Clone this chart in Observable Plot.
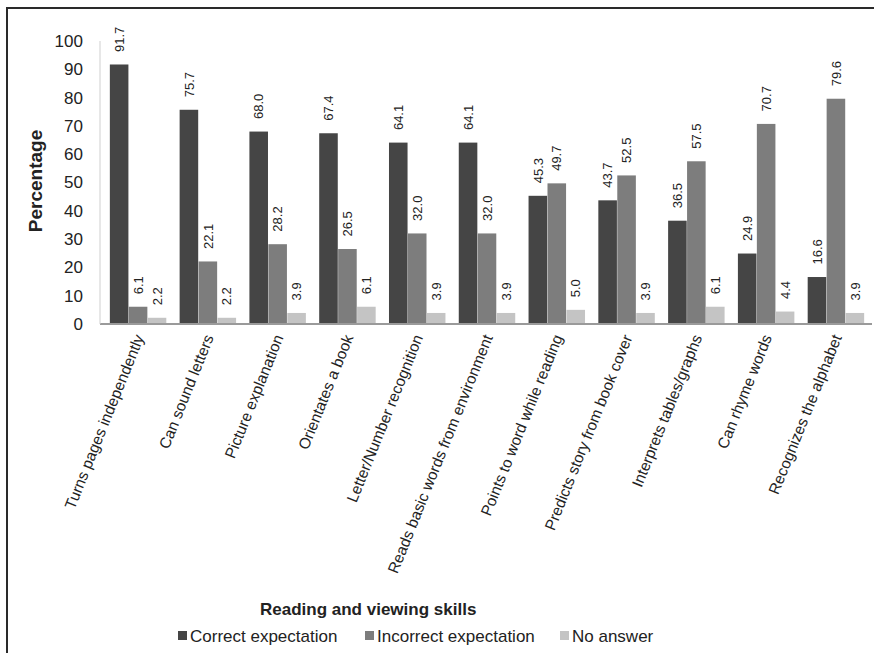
<!DOCTYPE html>
<html>
<head>
<meta charset="utf-8">
<script src="https://cdn.jsdelivr.net/npm/d3@7"></script>
<script src="https://cdn.jsdelivr.net/npm/@observablehq/plot@0.6"></script>
<style>
  html, body { margin: 0; padding: 0; background: #fff; }
  #wrap { position: relative; width: 874px; height: 653px; overflow: hidden; font-family: "Liberation Sans", Arial, sans-serif; color: #222; }
  #wrap svg { position: absolute; left: 0; top: 0; }
  .bt { position: absolute; left: 6px; top: 7px; width: 868px; height: 2px; background: #2a2a2a; }
  .bl { position: absolute; left: 6px; top: 7px; width: 2px; height: 646px; background: #2a2a2a; }
  #ylabel { position: absolute; left: 36px; top: 181px; transform: translate(-50%, -50%) rotate(-90deg); font-weight: bold; font-size: 19px; white-space: nowrap; }
  #xlabel { position: absolute; left: 260px; top: 600px; font-weight: bold; font-size: 17px; white-space: nowrap; }
  #legend { position: absolute; left: 178px; top: 627px; font-size: 17px; white-space: nowrap; }
  .item { position: absolute; top: 0; white-space: nowrap; }
  .sw { display: inline-block; width: 9px; height: 9px; margin-right: 3px; vertical-align: 2px; }
</style>
</head>
<body>
<div id="wrap">
  <div class="bt"></div>
  <div class="bl"></div>
  <div id="ylabel">Percentage</div>
  <div id="xlabel">Reading and viewing skills</div>
  <div id="legend"></div>
</div>
<script>
const skills = [
  "Turns pages independently",
  "Can sound letters",
  "Picture explanation",
  "Orientates a book",
  "Letter/Number recognition",
  "Reads basic words from environment",
  "Points to word while reading",
  "Predicts story from book cover",
  "Interprets tables/graphs",
  "Can rhyme words",
  "Recognizes the alphabet"
];
const correct   = [91.7, 75.7, 68.0, 67.4, 64.1, 64.1, 45.3, 43.7, 36.5, 24.9, 16.6];
const incorrect = [6.1, 22.1, 28.2, 26.5, 32.0, 32.0, 49.7, 52.5, 57.5, 70.7, 79.6];
const noAnswer  = [2.2, 2.2, 3.9, 6.1, 3.9, 3.9, 5.0, 3.9, 6.1, 4.4, 3.9];
const seriesNames = ["Correct expectation", "Incorrect expectation", "No answer"];
const seriesColors = ["#454545", "#7d7d7d", "#c4c4c4"];
const yTicks = [0, 10, 20, 30, 40, 50, 60, 70, 80, 90, 100];

const seriesValues = [correct, incorrect, noAnswer];
const data = skills.flatMap((s, i) => seriesNames.map((n, k) => ({skill: s, series: n, value: seriesValues[k][i]})));

const chart = Plot.plot({
  width: 874,
  height: 590,
  marginTop: 41,
  marginBottom: 266,
  marginLeft: 102,
  marginRight: 2,
  style: {fontFamily: "'Liberation Sans', Arial, sans-serif", color: "#222", background: "transparent"},
  fx: {domain: skills, paddingInner: 0.18, paddingOuter: 0.107, round: false, label: null},
  x: {domain: seriesNames, axis: null, padding: 0.02, round: false},
  y: {domain: [0, 100]},
  color: {domain: seriesNames, range: seriesColors},
  marks: [
    Plot.barY(data, {fx: "skill", x: "series", y: "value", fill: "series"}),
    Plot.text(data, {fx: "skill", x: "series", y: "value", text: d => d.value.toFixed(1), rotate: -90, textAnchor: "start", dy: -13, fontSize: 13, fill: "#222"}),
    Plot.axisY({ticks: yTicks, tickSize: 0, tickPadding: 27, fontSize: 17, label: null}),
    Plot.axisFx({anchor: "bottom", tickRotate: -68, tickSize: 0, tickPadding: 11, dx: 1, fontSize: 15.5, label: null})
  ]
});

document.getElementById("wrap").appendChild(chart);

// axis lines drawn with the chart's own y scale
const sy = chart.scale("y");
const svg = d3.select(chart);
svg.append("line")
  .attr("x1", 100).attr("x2", 872)
  .attr("y1", sy.apply(0)).attr("y2", sy.apply(0))
  .attr("stroke", "#9a9a9a").attr("stroke-width", 2);
svg.append("line")
  .attr("x1", 100).attr("x2", 100)
  .attr("y1", sy.apply(100)).attr("y2", sy.apply(0))
  .attr("stroke", "#cfcfcf").attr("stroke-width", 1);

// legend
const legend = document.getElementById("legend");
const offsets = [0, 187, 382];
seriesNames.forEach((n, k) => {
  const it = document.createElement("div");
  it.className = "item";
  it.style.left = offsets[k] + "px";
  const sw = document.createElement("span");
  sw.className = "sw";
  sw.style.background = seriesColors[k];
  it.appendChild(sw);
  it.appendChild(document.createTextNode(n));
  legend.appendChild(it);
});
</script>
</body>
</html>
